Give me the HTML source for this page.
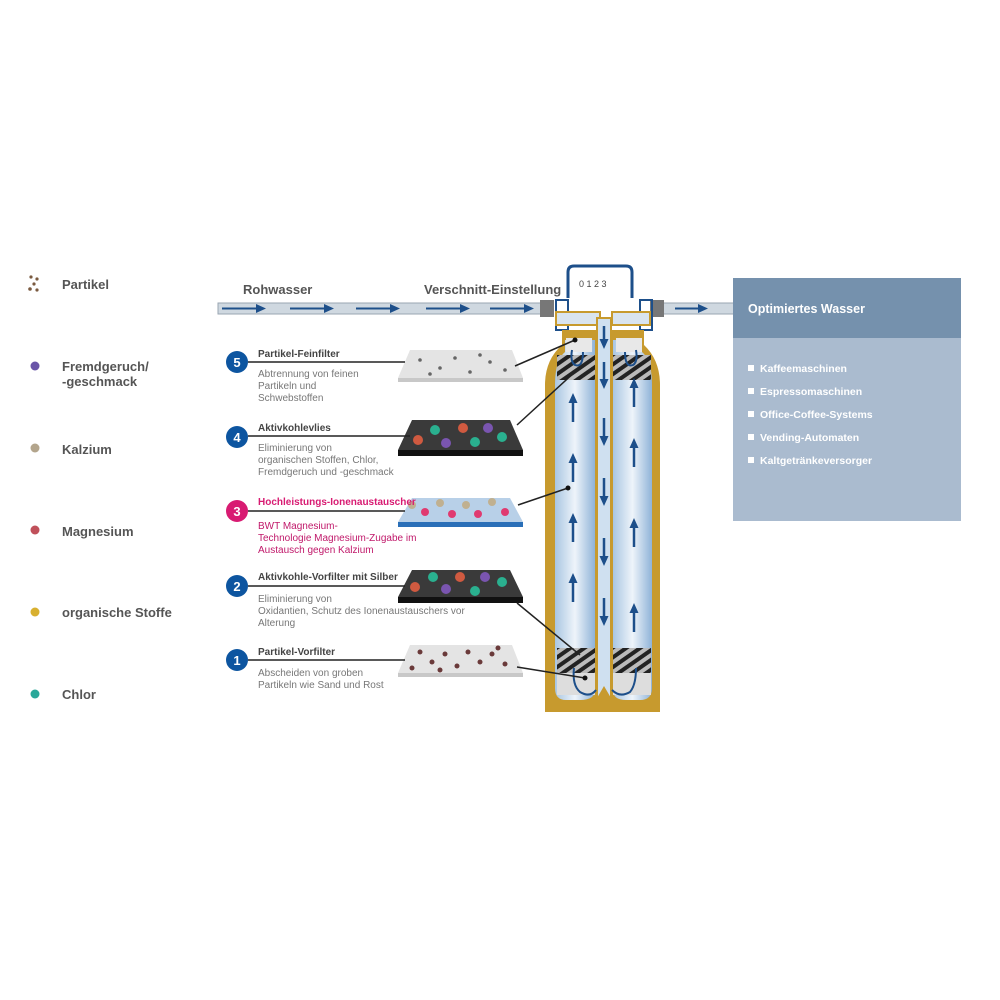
<!DOCTYPE html>
<html><head><meta charset="utf-8"><style>
html,body{margin:0;padding:0;background:#fff;width:1000px;height:1000px;overflow:hidden}
svg text{font-family:"Liberation Sans",sans-serif}
</style></head><body>
<svg width="1000" height="1000" viewBox="0 0 1000 1000" xmlns="http://www.w3.org/2000/svg">
<defs>
<linearGradient id="wat" x1="0" x2="1"><stop offset="0" stop-color="#a9c6e2"/><stop offset="0.5" stop-color="#eef4fa"/><stop offset="1" stop-color="#8fb3d8"/></linearGradient>
<pattern id="hatch" width="8" height="8" patternUnits="userSpaceOnUse" patternTransform="rotate(-35)"><rect width="8" height="8" fill="#bbb"/><rect width="8" height="4" fill="#222"/></pattern>
<marker id="ah" markerUnits="userSpaceOnUse" markerWidth="11" markerHeight="11" refX="6" refY="5.5" orient="auto"><path d="M0,1 L10,5.5 L0,10z" fill="#1d4f8a"/></marker>
</defs>
<g font-size="13" font-weight="bold" fill="#555">
<text x="62" y="289">Partikel</text>
<text x="62" y="371">Fremdgeruch/</text><text x="62" y="386">-geschmack</text>
<text x="62" y="454">Kalzium</text>
<text x="62" y="536">Magnesium</text>
<text x="62" y="617">organische Stoffe</text>
<text x="62" y="699">Chlor</text>
</g>
<g fill="#7a5a40"><circle cx="31" cy="277" r="1.6"/><circle cx="37" cy="279" r="1.6"/><circle cx="34" cy="284" r="1.6"/><circle cx="30" cy="289" r="1.8"/><circle cx="37" cy="290" r="1.6"/></g>
<circle cx="35" cy="366" r="4.5" fill="#6a55a8"/>
<circle cx="35" cy="448" r="4.5" fill="#b3a58c"/>
<circle cx="35" cy="530" r="4.5" fill="#c0505a"/>
<circle cx="35" cy="612" r="4.5" fill="#d8b030"/>
<circle cx="35" cy="694" r="4.5" fill="#2aa89a"/>
<rect x="218" y="303" width="330" height="11" fill="#cfd8e0" stroke="#9aa6b2"/>
<rect x="655" y="303" width="80" height="11" fill="#cfd8e0" stroke="#9aa6b2"/>
<g stroke="#1d4f8a" stroke-width="2" marker-end="url(#ah)">
<line x1="222" y1="308.5" x2="262" y2="308.5"/><line x1="290" y1="308.5" x2="330" y2="308.5"/><line x1="356" y1="308.5" x2="396" y2="308.5"/><line x1="426" y1="308.5" x2="466" y2="308.5"/><line x1="490" y1="308.5" x2="530" y2="308.5"/><line x1="675" y1="308.5" x2="704" y2="308.5"/>
</g>
<rect x="540" y="300" width="14" height="17" fill="#777"/><rect x="650" y="300" width="14" height="17" fill="#777"/>
<text x="243" y="294" font-size="13" font-weight="bold" fill="#555">Rohwasser</text>
<text x="424" y="294" font-size="13" font-weight="bold" fill="#555">Verschnitt-Einstellung</text>
<path d="M568,298 V272 Q568,266 574,266 H626 Q632,266 632,272 V298" fill="#fff" stroke="#1d4f8a" stroke-width="3"/>
<text x="579" y="287" font-size="9" fill="#444">0  1  2  3</text>
<path d="M556,300 h12 v30 h-12 z M640,300 h12 v30 h-12 z" fill="none" stroke="#1d4f8a" stroke-width="2"/>
<path d="M562,330 H644 V345 Q660,360 660,385 V712 H545 V385 Q545,360 562,345 Z" fill="#c79a2e"/>
<path d="M556,312 H600 V325 H556 Z M612,312 H650 V325 H612 Z" fill="#d9e4ef" stroke="#c79a2e" stroke-width="2"/>
<path d="M565,340 H595 V690 Q595,700 580,700 H566 Q555,700 555,688 V385 Q555,360 565,352 Z" fill="url(#wat)"/>
<path d="M613,340 H642 V352 Q652,360 652,385 V688 Q652,700 640,700 H626 Q613,700 613,690 Z" fill="url(#wat)"/>
<rect x="557" y="355" width="38" height="25" fill="url(#hatch)"/>
<rect x="613" y="355" width="38" height="25" fill="url(#hatch)"/>
<rect x="557" y="648" width="38" height="25" fill="url(#hatch)"/>
<rect x="613" y="648" width="38" height="25" fill="url(#hatch)"/>
<rect x="566" y="338" width="26" height="14" fill="#e8e8e8"/>
<rect x="616" y="338" width="26" height="14" fill="#e8e8e8"/>
<rect x="557" y="673" width="38" height="22" fill="#ddd"/>
<rect x="613" y="673" width="38" height="22" fill="#ddd"/>
<path d="M597,318 H611 V700 L604,688 L597,700 Z" fill="#cfe0f0" stroke="#c79a2e" stroke-width="2"/>
<g stroke="#1d4f8a" stroke-width="2.5" marker-end="url(#ah)">
<line x1="604" y1="326" x2="604" y2="345"/><line x1="604" y1="362" x2="604" y2="385"/><line x1="604" y1="418" x2="604" y2="442"/><line x1="604" y1="478" x2="604" y2="502"/><line x1="604" y1="538" x2="604" y2="562"/><line x1="604" y1="598" x2="604" y2="622"/>
<line x1="573" y1="422" x2="573" y2="397"/><line x1="573" y1="482" x2="573" y2="457"/><line x1="573" y1="542" x2="573" y2="517"/><line x1="573" y1="602" x2="573" y2="577"/>
<line x1="634" y1="407" x2="634" y2="382"/><line x1="634" y1="467" x2="634" y2="442"/><line x1="634" y1="547" x2="634" y2="522"/><line x1="634" y1="632" x2="634" y2="607"/>
</g>
<g fill="none" stroke="#1d4f8a" stroke-width="2">
<path d="M596,690 Q590,698 580,692 Q572,685 574,668"/><path d="M612,690 Q620,698 630,692 Q636,685 636,668"/>
<path d="M583,352 Q583,368 575,365 Q570,362 572,350"/><path d="M625,352 Q625,368 633,365 Q638,362 636,350"/>
</g>
<polygon points="410,350 512,350 523,378 398,378" fill="#e4e4e4"/><rect x="398" y="378" width="125" height="4" fill="#c8c8c8"/>
<g fill="#666"><circle cx="420" cy="360" r="1.8"/><circle cx="440" cy="368" r="1.8"/><circle cx="455" cy="358" r="1.8"/><circle cx="470" cy="372" r="1.8"/><circle cx="490" cy="362" r="1.8"/><circle cx="505" cy="370" r="1.8"/><circle cx="430" cy="374" r="1.8"/><circle cx="480" cy="355" r="1.8"/></g>
<polygon points="412,420 510,420 523,450 398,450" fill="#3a3a3a"/><rect x="398" y="450" width="125" height="6" fill="#111"/>
<g><circle cx="418" cy="440" r="5" fill="#d05a40"/><circle cx="435" cy="430" r="5" fill="#2ab08f"/><circle cx="446" cy="443" r="5" fill="#7a55b0"/><circle cx="463" cy="428" r="5" fill="#d05a40"/><circle cx="475" cy="442" r="5" fill="#2ab08f"/><circle cx="488" cy="428" r="5" fill="#7a55b0"/><circle cx="502" cy="437" r="5" fill="#2ab08f"/></g>
<polygon points="412,498 510,498 523,522 398,522" fill="#b8d0e8"/><rect x="398" y="522" width="125" height="5" fill="#2a6fb8"/>
<g><circle cx="412" cy="505" r="4" fill="#c0b090"/><circle cx="425" cy="512" r="4" fill="#e03a70"/><circle cx="440" cy="503" r="4" fill="#c0b090"/><circle cx="452" cy="514" r="4" fill="#e03a70"/><circle cx="466" cy="505" r="4" fill="#c0b090"/><circle cx="478" cy="514" r="4" fill="#e03a70"/><circle cx="492" cy="502" r="4" fill="#c0b090"/><circle cx="505" cy="512" r="4" fill="#e03a70"/></g>
<polygon points="412,570 510,570 523,597 398,597" fill="#3a3a3a"/><rect x="398" y="597" width="125" height="6" fill="#111"/>
<g><circle cx="415" cy="587" r="5" fill="#d05a40"/><circle cx="433" cy="577" r="5" fill="#2ab08f"/><circle cx="446" cy="589" r="5" fill="#7a55b0"/><circle cx="460" cy="577" r="5" fill="#d05a40"/><circle cx="475" cy="591" r="5" fill="#2ab08f"/><circle cx="485" cy="577" r="5" fill="#7a55b0"/><circle cx="502" cy="582" r="5" fill="#2ab08f"/></g>
<polygon points="410,645 512,645 523,673 398,673" fill="#e4e4e4"/><rect x="398" y="673" width="125" height="4" fill="#c8c8c8"/>
<g fill="#6a3a3a"><circle cx="420" cy="652" r="2.5"/><circle cx="432" cy="662" r="2.5"/><circle cx="445" cy="654" r="2.5"/><circle cx="457" cy="666" r="2.5"/><circle cx="468" cy="652" r="2.5"/><circle cx="480" cy="662" r="2.5"/><circle cx="492" cy="654" r="2.5"/><circle cx="505" cy="664" r="2.5"/><circle cx="412" cy="668" r="2.5"/><circle cx="440" cy="670" r="2.5"/><circle cx="498" cy="648" r="2.5"/></g>
<g stroke="#222" stroke-width="1.5" fill="none">
<path d="M248,362 H405"/><path d="M248,436 H410"/><path d="M248,511 H405"/><path d="M248,586 H405"/><path d="M248,660 H405"/>
<path d="M515,366 L575,340"/><path d="M517,425 L577,370"/><path d="M518,505 L568,488"/><path d="M517,603 L580,655"/><path d="M517,667 L585,678"/>
</g>
<g fill="#111"><circle cx="575" cy="340" r="2.5"/><circle cx="568" cy="488" r="2.5"/><circle cx="585" cy="678" r="2.5"/></g>
<g font-size="13" font-weight="bold" fill="#fff" text-anchor="middle">
<circle cx="237" cy="362" r="11" fill="#0d55a0"/><text x="237" y="367">5</text>
<circle cx="237" cy="437" r="11" fill="#0d55a0"/><text x="237" y="442">4</text>
<circle cx="237" cy="511" r="11" fill="#d81b72"/><text x="237" y="516">3</text>
<circle cx="237" cy="586" r="11" fill="#0d55a0"/><text x="237" y="591">2</text>
<circle cx="237" cy="660" r="11" fill="#0d55a0"/><text x="237" y="665">1</text>
</g>
<g font-size="10" font-weight="bold" fill="#444">
<text x="258" y="357">Partikel-Feinfilter</text>
<text x="258" y="431">Aktivkohlevlies</text>
<text x="258" y="505" fill="#d81b72">Hochleistungs-Ionenaustauscher</text>
<text x="258" y="580">Aktivkohle-Vorfilter mit Silber</text>
<text x="258" y="655">Partikel-Vorfilter</text>
</g>
<g font-size="10" fill="#777">
<text x="258" y="377">Abtrennung von feinen</text><text x="258" y="389">Partikeln und</text><text x="258" y="401">Schwebstoffen</text>
<text x="258" y="451">Eliminierung von</text><text x="258" y="463">organischen Stoffen, Chlor,</text><text x="258" y="475">Fremdgeruch und -geschmack</text>
<g fill="#c0186a"><text x="258" y="529">BWT Magnesium-</text><text x="258" y="541">Technologie Magnesium-Zugabe im</text><text x="258" y="553">Austausch gegen Kalzium</text></g>
<text x="258" y="602">Eliminierung von</text><text x="258" y="614">Oxidantien, Schutz des Ionenaustauschers vor</text><text x="258" y="626">Alterung</text>
<text x="258" y="676">Abscheiden von groben</text><text x="258" y="688">Partikeln wie Sand und Rost</text>
</g>
<rect x="733" y="278" width="228" height="60" fill="#7591ad"/>
<rect x="733" y="338" width="228" height="183" fill="#aabbcf"/>
<text x="748" y="313" font-size="12.5" font-weight="bold" fill="#fff">Optimiertes Wasser</text>
<g font-size="10.5" font-weight="bold" fill="#fff">
<rect x="748" y="365" width="6" height="6"/><text x="760" y="372">Kaffeemaschinen</text>
<rect x="748" y="388" width="6" height="6"/><text x="760" y="395">Espressomaschinen</text>
<rect x="748" y="411" width="6" height="6"/><text x="760" y="418">Office-Coffee-Systems</text>
<rect x="748" y="434" width="6" height="6"/><text x="760" y="441">Vending-Automaten</text>
<rect x="748" y="457" width="6" height="6"/><text x="760" y="464">Kaltgetränkeversorger</text>
</g>
</svg>
</body></html>
